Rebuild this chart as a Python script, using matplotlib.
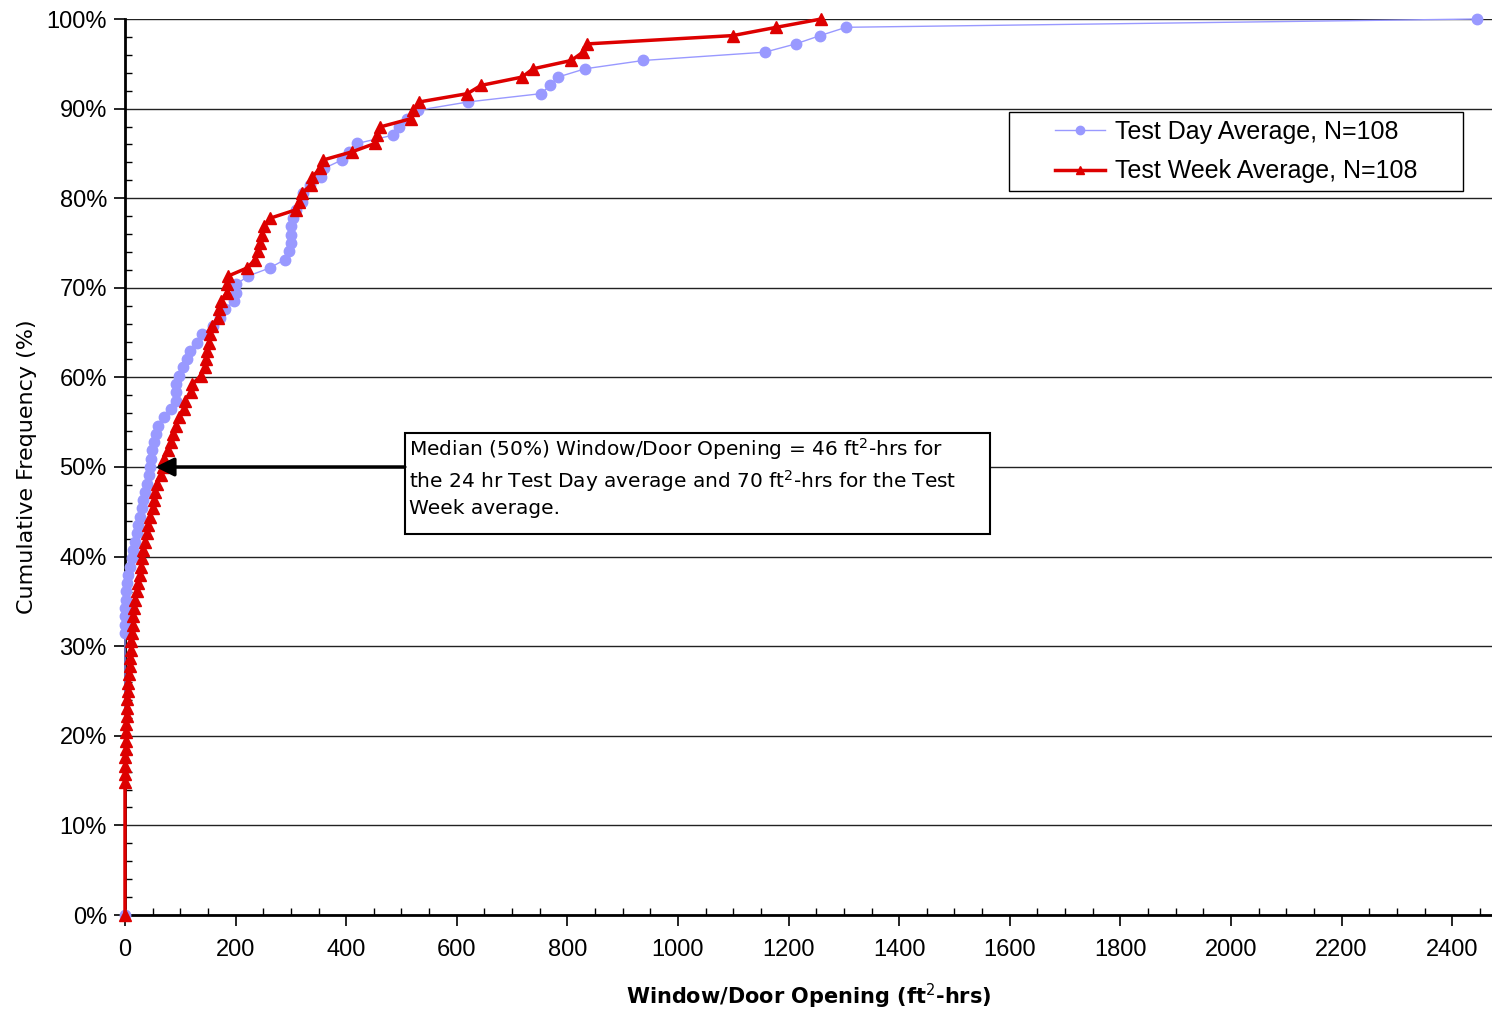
import numpy as np
import matplotlib
matplotlib.use("Agg")
import matplotlib.pyplot as plt
from matplotlib.ticker import MultipleLocator, PercentFormatter
from matplotlib.patches import Rectangle

# datos: valores ordenados (ft2-hrs), N=108, primer punto en (0, 0)
n_total = 108
day_first_rank = 34
day_x = [0, 0, 0, 0, 1, 1, 3, 6, 9, 12, 15, 18, 21, 24, 27, 30, 33, 36, 40, 43,
         45, 47, 49, 52, 56, 60, 71, 84, 92, 92, 93, 98, 104, 112, 118, 131, 139,
         160, 172, 181, 197, 200, 201, 222, 262, 289, 297, 300, 300, 301, 303, 309,
         320, 322, 335, 354, 360, 392, 405, 420, 485, 495, 510, 530, 620, 752, 769,
         783, 832, 937, 1157, 1213, 1257, 1304, 2445]
week_first_rank = 16
week_x = [0, 0, 0, 0, 1, 1, 1, 2, 3, 3, 4, 6, 6, 7, 9, 9, 11, 11, 12, 14, 15, 16,
          18, 21, 23, 27, 29, 31, 33, 37, 40, 42, 46, 50, 53, 55, 57, 65, 69, 71,
          78, 83, 87, 93, 98, 106, 108, 119, 122, 137, 145, 147, 149, 151, 154, 157,
          168, 170, 173, 184, 184, 186, 221, 235, 240, 244, 247, 252, 263, 309, 314,
          320, 336, 339, 353, 358, 411, 452, 455, 462, 518, 521, 532, 619, 644, 718,
          738, 807, 828, 836, 1099, 1178, 1259]

day_y = [0] + list(np.arange(day_first_rank, n_total + 1) / n_total)
day_x = [0] + day_x
week_y = [0] + list(np.arange(week_first_rank, n_total + 1) / n_total)
week_x = [0] + week_x

label_day = "Test Day Average, N=108"
label_week = "Test Week Average, N=108"
note = ("Median (50%) Window/Door Opening = 46 ft$^2$-hrs for\n"
        "the 24 hr Test Day average and 70 ft$^2$-hrs for the Test\n"
        "Week average.")

fig = plt.figure(figsize=(14.92, 10.10), dpi=100)
ax = fig.add_axes([125 / 1492, 1 - 915 / 1010, 1 - 125 / 1492, 896 / 1010])

ax.plot(day_x, day_y, color="#9999FF", lw=1, marker="o", ms=7.5,
        mec="#9999FF", mfc="#9999FF", label=label_day, clip_on=False, zorder=3)
ax.plot(week_x, week_y, color="#DD0000", lw=2.5, marker="^", ms=8,
        mec="#DD0000", mfc="#DD0000", label=label_week, clip_on=False, zorder=4)

ax.set_xlim(0, 2472)
ax.set_ylim(0, 1)
ax.xaxis.set_major_locator(MultipleLocator(200))
ax.xaxis.set_minor_locator(MultipleLocator(50))
ax.yaxis.set_major_locator(MultipleLocator(0.1))
ax.yaxis.set_minor_locator(MultipleLocator(0.02))
ax.yaxis.set_major_formatter(PercentFormatter(1.0, decimals=0))
ax.grid(axis="y", which="major", color="#222222", lw=1)
ax.set_axisbelow(True)

for s in ["top", "right"]:
    ax.spines[s].set_visible(False)
for s in ["left", "bottom"]:
    ax.spines[s].set_linewidth(2)

ax.tick_params(which="major", direction="out", length=8, width=1.2)
ax.tick_params(which="minor", direction="in", length=5, width=1)
ax.tick_params(axis="y", which="major", pad=5)
ax.tick_params(axis="x", which="major", pad=9)
for lab in ax.get_xticklabels() + ax.get_yticklabels():
    lab.set_family("Liberation Sans")
    lab.set_fontsize(17)

ax.set_ylabel("Cumulative Frequency (%)", fontsize=16, labelpad=7)
ax.set_xlabel("Window/Door Opening (ft$^2$-hrs)", fontsize=15, fontweight="bold",
              labelpad=15)

# cuadro de texto con flecha
ax.add_patch(Rectangle((506, 0.425), 1058, 0.113, facecolor="white",
                       edgecolor="black", lw=1.5, zorder=6))
ax.text(514, 0.534, note, fontsize=14.5, va="top", ha="left", linespacing=1.3,
        zorder=7)
ax.annotate("", xy=(55, 0.5), xytext=(506, 0.5),
            arrowprops=dict(arrowstyle="-|>", color="black", lw=2.5,
                            mutation_scale=28, shrinkA=0, shrinkB=0), zorder=7)

# leyenda con marco propio
ax.add_patch(Rectangle((0.6467, 0.808), 0.332, 0.088, transform=ax.transAxes,
                       facecolor="white", edgecolor="black", lw=1, zorder=6))
leg = ax.legend(loc="center", bbox_to_anchor=(0.8127, 0.852), frameon=False,
                prop={"family": "Liberation Sans", "size": 18}, handlelength=2.0,
                handletextpad=0.4, labelspacing=0.62, markerscale=0.8)
leg.set_zorder(7)

fig.savefig("out.png", dpi=100)
